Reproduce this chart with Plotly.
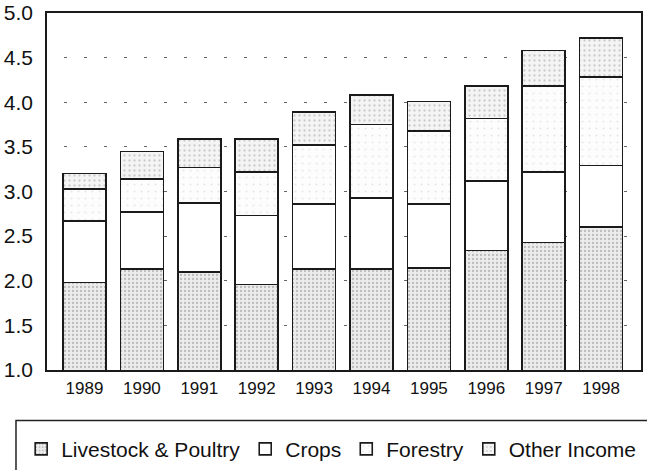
import plotly.graph_objects as go

years = ["1989", "1990", "1991", "1992", "1993", "1994", "1995", "1996", "1997", "1998"]
livestock = [1.98, 2.13, 2.10, 1.96, 2.13, 2.13, 2.14, 2.34, 2.43, 2.60]
crops = [0.69, 0.64, 0.77, 0.77, 0.73, 0.80, 0.72, 0.78, 0.79, 0.69]
forestry = [0.36, 0.37, 0.40, 0.49, 0.66, 0.82, 0.82, 0.70, 0.96, 0.99]
other = [0.17, 0.31, 0.32, 0.37, 0.37, 0.33, 0.33, 0.36, 0.40, 0.44]
y_ticks = [1.0, 1.5, 2.0, 2.5, 3.0, 3.5, 4.0, 4.5, 5.0]

FONT = "Liberation Sans, Arial, Helvetica, sans-serif"

series = [
    ("Livestock & Poultry", livestock, dict(shape=".", bgcolor="#ececec", fgcolor="#8a8a8a", size=4, solidity=0.25)),
    ("Crops", crops, dict(shape="", bgcolor="white", fgcolor="white")),
    ("Forestry", forestry, dict(shape=".", bgcolor="#fdfdfd", fgcolor="#d4d4d4", size=7, solidity=0.08)),
    ("Other Income", other, dict(shape=".", bgcolor="#f4f4f4", fgcolor="#a0a0a0", size=5, solidity=0.16)),
]

fig = go.Figure()
for name, vals, pat in series:
    fig.add_trace(go.Bar(
        x=years, y=vals, name=name,
        marker=dict(color=pat["bgcolor"], line=dict(color="#1a1a1a", width=1.6), pattern=pat),
    ))

# plot area: top 13 px, bottom 370 px
fig.update_layout(
    barmode="stack",
    bargap=0.25,
    width=647, height=470,
    margin=dict(l=47, r=6, t=13, b=100, autoexpand=False),
    plot_bgcolor="white", paper_bgcolor="white",
    font=dict(family=FONT, color="#111111"),
    showlegend=True,
    legend=dict(
        orientation="h", x=-0.0435, xanchor="left", y=-0.222, yanchor="middle",
        font=dict(family=FONT, size=21, color="#111111"),
        bgcolor="rgba(0,0,0,0)", borderwidth=0, traceorder="normal",
    ),
    shapes=[dict(type="rect", xref="paper", yref="paper",
                 x0=-0.0522, x1=1.04, y0=-0.33, y1=-0.1415,
                 line=dict(color="#222222", width=1.5), fillcolor="rgba(0,0,0,0)")],
)
fig.update_xaxes(
    type="category", range=[-0.653, 9.695],
    showline=True, mirror=True, linecolor="#1a1a1a", linewidth=1.5,
    showgrid=False, ticks="", ticklabelstandoff=2, automargin=False,
    tickfont=dict(family=FONT, size=17, color="#111111"),
)
fig.update_yaxes(
    range=[1.0, 5.0], tickvals=y_ticks, tickformat=".1f",
    showline=True, mirror=True, linecolor="#1a1a1a", linewidth=1.5,
    showgrid=True, gridcolor="#666666", gridwidth=1, griddash="0px,17px,3px,0px",
    zeroline=False, ticks="", ticklabelstandoff=8, ticklabeloverflow="allow", automargin=False,
    tickfont=dict(family=FONT, size=21, color="#111111"),
)

fig.write_html("out.html", config={"displayModeBar": False},
               post_script="document.body.style.margin='0';")
